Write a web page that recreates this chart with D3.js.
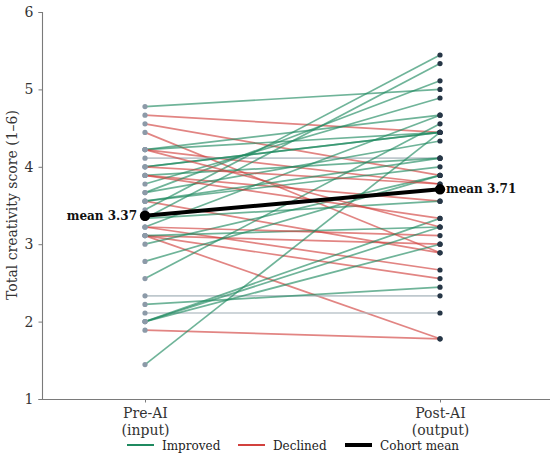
<!DOCTYPE html>
<html>
<head>
<meta charset="utf-8">
<script src="https://cdn.jsdelivr.net/npm/d3@7"></script>
<style>
  body { margin: 0; background: #fff; }
  text { font-family: "DejaVu Serif", serif; }
</style>
</head>
<body>
<div id="chart"></div>
<script>
// scores in ninths of a point (scale is 1-6, step 1/9)
var preScores = [43, 42, 41, 40, 38, 38, 38, 37, 36, 36, 35, 35, 34, 33, 33, 32, 32, 31, 30, 30, 29,
  29, 28, 28, 28, 28, 27, 29, 25, 23, 21, 20, 19, 18, 18, 18, 17, 13, 36, 35, 38, 32];
var postScores = [45, 40, 35, 26, 42, 40, 34, 37, 40, 40, 37, 32, 44, 46, 39, 26, 36, 49, 48, 32, 42,
  24, 27, 23, 16, 29, 35, 28, 35, 41, 21, 22, 19, 30, 29, 27, 16, 40, 34, 30, 29, 37];
var phases = ["Pre-AI|(input)", "Post-AI|(output)"];
var yTicks = [1, 2, 3, 4, 5, 6];
var legendItems = ["Improved", "Declined", "Cohort mean"];

var data = preScores.map(function (p, i) {
  return { pre: p / 9, post: postScores[i] / 9 };
});

var w = 550;
var h = 459;

var svg = d3.select("#chart").append("svg")
  .attr("width", w)
  .attr("height", h);

var xScale = d3.scalePoint()
  .domain(phases)
  .range([145, 440]);

var yScale = d3.scaleLinear()
  .domain([1, 6])
  .range([399, 12]);

function lineColor(d) {
  if (d.post > d.pre + 1e-9) return "#1f8a60";
  if (d.post < d.pre - 1e-9) return "#d2413e";
  return "#a9b6bd";
}

// participant lines
svg.append("g").selectAll("line")
  .data(data)
  .enter()
  .append("line")
  .attr("x1", xScale(phases[0]))
  .attr("x2", xScale(phases[1]))
  .attr("y1", function (d) { return yScale(d.pre); })
  .attr("y2", function (d) { return yScale(d.post); })
  .attr("stroke", lineColor)
  .attr("stroke-width", 1.7)
  .attr("opacity", function (d) { return d.post === d.pre ? 0.75 : 0.64; });

svg.append("g").selectAll("circle")
  .data(data)
  .enter()
  .append("circle")
  .attr("cx", xScale(phases[0]))
  .attr("cy", function (d) { return yScale(d.pre); })
  .attr("r", 2.6)
  .attr("fill", "#8c9aa8");

svg.append("g").selectAll("circle")
  .data(data)
  .enter()
  .append("circle")
  .attr("cx", xScale(phases[1]))
  .attr("cy", function (d) { return yScale(d.post); })
  .attr("r", 2.6)
  .attr("fill", "#263646");

// cohort mean
var meanPre = d3.mean(data, function (d) { return d.pre; });
var meanPost = d3.mean(data, function (d) { return d.post; });

svg.append("line")
  .attr("x1", xScale(phases[0]))
  .attr("x2", xScale(phases[1]))
  .attr("y1", yScale(meanPre))
  .attr("y2", yScale(meanPost))
  .attr("stroke", "#000")
  .attr("stroke-width", 4);

svg.selectAll(".meanDot")
  .data([meanPre, meanPost])
  .enter()
  .append("circle")
  .attr("class", "meanDot")
  .attr("cx", function (d, i) { return xScale(phases[i]); })
  .attr("cy", function (d) { return yScale(d); })
  .attr("r", 5.2)
  .attr("fill", "#000");

svg.append("text")
  .attr("x", xScale(phases[0]) - 8)
  .attr("y", yScale(meanPre) + 4)
  .attr("text-anchor", "end")
  .attr("font-size", 12)
  .attr("font-weight", "bold")
  .attr("fill", "#111")
  .text("mean " + d3.format(".2f")(meanPre));

svg.append("text")
  .attr("x", xScale(phases[1]) + 6)
  .attr("y", yScale(meanPost) + 4)
  .attr("text-anchor", "start")
  .attr("font-size", 12)
  .attr("font-weight", "bold")
  .attr("fill", "#111")
  .text("mean " + d3.format(".2f")(meanPost));

// axes
var yAxis = d3.axisLeft(yScale).tickValues(yTicks).tickFormat(d3.format("d")).tickSize(3.5).tickPadding(5);
var gy = svg.append("g")
  .attr("transform", "translate(42,0)")
  .call(yAxis);
gy.select(".domain").attr("stroke", "#7a7a7a").attr("stroke-width", 1.1);
gy.selectAll(".tick line").attr("stroke", "#7a7a7a");
gy.selectAll(".tick text")
  .attr("font-size", 14)
  .attr("fill", "#333");

var xAxis = d3.axisBottom(xScale).tickSize(3.5).tickFormat("");
var gx = svg.append("g")
  .attr("transform", "translate(0,399)")
  .call(xAxis);
gx.select(".domain").attr("d", "M42,0.5H550").attr("stroke", "#7a7a7a").attr("stroke-width", 1.1);
gx.selectAll(".tick line").attr("stroke", "#7a7a7a");
gx.selectAll(".tick")
  .append("text")
  .attr("text-anchor", "middle")
  .attr("font-size", 14)
  .attr("fill", "#333")
  .selectAll("tspan")
  .data(function (d) { return d.split("|"); })
  .enter()
  .append("tspan")
  .attr("x", 0)
  .attr("y", function (d, i) { return 19 + i * 16.5; })
  .text(function (d) { return d; });

svg.append("text")
  .attr("transform", "translate(17,205) rotate(-90)")
  .attr("text-anchor", "middle")
  .attr("font-size", 14)
  .attr("fill", "#333")
  .text("Total creativity score (1\u20136)");

// legend
var legendColors = ["#1f8a60", "#d2413e", "#000"];
var legendX = [127, 238, 345];
var lg = svg.append("g").selectAll("g")
  .data(legendItems)
  .enter()
  .append("g")
  .attr("transform", function (d, i) { return "translate(" + legendX[i] + ",445)"; });
lg.append("line")
  .attr("x1", 0).attr("x2", 27)
  .attr("stroke", function (d, i) { return legendColors[i]; })
  .attr("stroke-width", function (d, i) { return i === 2 ? 4 : 2; });
lg.append("text")
  .attr("x", 35)
  .attr("y", 4.5)
  .attr("font-size", 12)
  .attr("fill", "#222")
  .text(function (d) { return d; });
</script>
</body>
</html>
